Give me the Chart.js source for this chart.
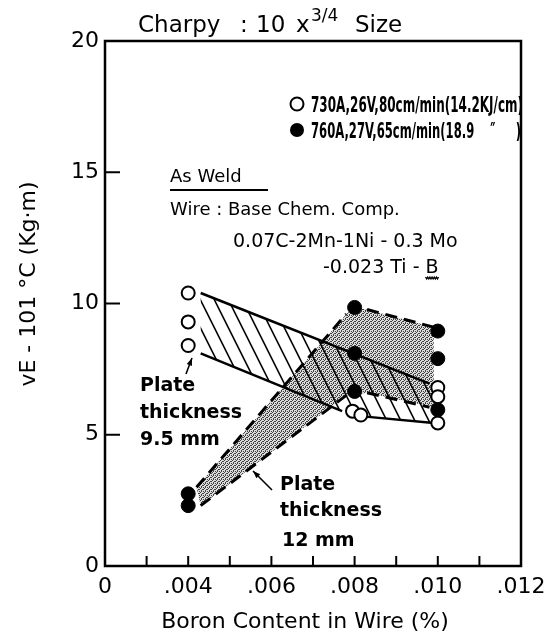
<!DOCTYPE html>
<html>
<head>
<meta charset="utf-8">
<script src="https://cdn.jsdelivr.net/npm/chart.js@4.4.1/dist/chart.umd.min.js"></script>
<style>
  html, body { margin: 0; padding: 0; background: #fff; }
  #wrap { width: 554px; height: 640px; }
</style>
</head>
<body>
<div id="wrap"><canvas id="chart"></canvas></div>
<script>
// --- data: boron content (%) vs vE-101°C (kg·m) ---
const openX = [0.004, 0.004, 0.004, 0.00795, 0.00815, 0.010, 0.010, 0.010];
const openY = [10.4, 9.3, 8.4, 5.9, 5.75, 6.8, 6.45, 5.45];
const filledX = [0.004, 0.004, 0.008, 0.008, 0.008, 0.010, 0.010, 0.010];
const filledY = [2.75, 2.3, 9.85, 8.1, 6.65, 8.95, 7.9, 5.95];
const seriesLabels = ['730A,26V,80cm/min(14.2KJ/cm)', '760A,27V,65cm/min(18.9    \u2033     )'];

// scatter bands: 9.5 mm plate (hatched) and 12 mm plate (stippled)
const band95X = [0.0043, 0.0098, 0.0099, 0.0082, 0.0077, 0.0043];
const band95Y = [10.4, 6.95, 5.45, 5.7, 5.9, 8.1];
const band12X = [0.0042, 0.0078, 0.0080, 0.0083, 0.0099, 0.0099, 0.0083, 0.0078, 0.0043];
const band12Y = [3.0, 9.6, 9.85, 9.77, 9.1, 6.05, 6.6, 6.5, 2.3];

// band outlines
const solidLines = [
  { x: [0.0043, 0.0098], y: [10.4, 6.95] },
  { x: [0.0043, 0.0077], y: [8.1, 5.9] },
  { x: [0.0082, 0.0099], y: [5.7, 5.45] }
];
const dashedLines = [
  { x: [0.0042, 0.0078], y: [3.0, 9.6] },
  { x: [0.0083, 0.0099], y: [9.77, 9.1] },
  { x: [0.0043, 0.0078], y: [2.3, 6.5] },
  { x: [0.0083, 0.0098], y: [6.6, 6.05] }
];

// axes (x axis is broken: first position stands for 0)
const xTicks = [0.002, 0.003, 0.004, 0.005, 0.006, 0.007, 0.008, 0.009, 0.010, 0.011, 0.012];
const xTickLabels = ['0', '', '.004', '', '.006', '', '.008', '', '.010', '', '.012'];
const yTicks = [0, 5, 10, 15, 20];

const FONT = '"DejaVu Sans", sans-serif';
const NARROW = '"Liberation Sans Narrow", "DejaVu Sans Condensed", "DejaVu Sans", sans-serif';

const pts = (xs, ys) => xs.map((x, i) => ({ x: x, y: ys[i] }));

// stipple pattern for the 12 mm band
function stipple(ctx) {
  const pc = document.createElement('canvas');
  pc.width = 4; pc.height = 4;
  const p = pc.getContext('2d');
  p.fillStyle = '#dcdcdc';
  p.fillRect(0, 0, 4, 4);
  p.fillStyle = '#404040';
  [[0, 0], [2, 1], [1, 2], [3, 3], [3, 1], [1, 3]].forEach(([a, b]) => p.fillRect(a, b, 1, 1));
  return ctx.createPattern(pc, 'repeat');
}

function polyPath(ctx, xs, ys, sx, sy) {
  ctx.beginPath();
  xs.forEach((v, i) => {
    const px = sx.getPixelForValue(v), py = sy.getPixelForValue(ys[i]);
    if (i === 0) ctx.moveTo(px, py); else ctx.lineTo(px, py);
  });
  ctx.closePath();
}

function arrow(ctx, x1, y1, x2, y2) {
  ctx.beginPath();
  ctx.moveTo(x1, y1);
  ctx.lineTo(x2, y2);
  ctx.stroke();
  const a = Math.atan2(y2 - y1, x2 - x1);
  ctx.beginPath();
  ctx.moveTo(x2, y2);
  ctx.lineTo(x2 - 8 * Math.cos(a - 0.35), y2 - 8 * Math.sin(a - 0.35));
  ctx.lineTo(x2 - 8 * Math.cos(a + 0.35), y2 - 8 * Math.sin(a + 0.35));
  ctx.closePath();
  ctx.fill();
}

const bandsPlugin = {
  id: 'bands',
  beforeDatasetsDraw(chart) {
    const { ctx, scales: { x, y } } = chart;
    ctx.save();
    // 12 mm: stippled
    polyPath(ctx, band12X, band12Y, x, y);
    ctx.fillStyle = stipple(ctx);
    ctx.fill();
    // 9.5 mm: hatched
    polyPath(ctx, band95X, band95Y, x, y);
    ctx.clip();
    ctx.strokeStyle = '#000';
    ctx.lineWidth = 1.6;
    const top = chart.chartArea.top, bot = chart.chartArea.bottom;
    for (let c = chart.chartArea.left - 300; c < chart.chartArea.right; c += 14) {
      ctx.beginPath();
      ctx.moveTo(c, top);
      ctx.lineTo(c + (bot - top) / 2, bot);
      ctx.stroke();
    }
    ctx.restore();
  }
};

const decorPlugin = {
  id: 'decor',
  afterDraw(chart) {
    const { ctx, chartArea: a, scales: { x, y } } = chart;
    ctx.save();
    ctx.strokeStyle = '#000';
    ctx.fillStyle = '#000';

    // frame + inward ticks
    ctx.lineWidth = 2.5;
    ctx.strokeRect(a.left, a.top, a.right - a.left, a.bottom - a.top);
    ctx.lineWidth = 2;
    xTicks.forEach(v => {
      const px = x.getPixelForValue(v);
      ctx.beginPath(); ctx.moveTo(px, a.bottom); ctx.lineTo(px, a.bottom - 10); ctx.stroke();
    });
    yTicks.forEach(v => {
      const py = y.getPixelForValue(v);
      ctx.beginPath(); ctx.moveTo(a.left, py); ctx.lineTo(a.left + 15, py); ctx.stroke();
    });

    // title
    ctx.textBaseline = 'alphabetic';
    ctx.textAlign = 'left';
    ctx.font = '23px ' + FONT;
    ctx.fillText('Charpy', 138, 32);
    ctx.fillText(':', 240, 32);
    ctx.fillText('10', 256, 32);
    ctx.fillText('x', 296, 32);
    ctx.font = '17px ' + FONT;
    ctx.fillText('3/4', 311, 21);
    ctx.font = '23px ' + FONT;
    ctx.fillText('Size', 355, 32);

    // legend
    ctx.save();
    ctx.beginPath();
    ctx.rect(a.left, a.top, a.right - a.left - 1, a.bottom - a.top);
    ctx.clip();
    ctx.lineWidth = 2;
    ctx.beginPath(); ctx.arc(297, 104, 6.5, 0, Math.PI * 2); ctx.stroke();
    ctx.beginPath(); ctx.arc(297, 130, 7, 0, Math.PI * 2); ctx.fill();
    ctx.font = 'bold 22px ' + NARROW;
    ctx.fillText(seriesLabels[0], 311, 112, 212);
    ctx.fillText(seriesLabels[1], 311, 138, 210);
    ctx.restore();

    // notes
    ctx.font = '18px ' + FONT;
    ctx.fillText('As Weld', 170, 182);
    ctx.lineWidth = 2;
    ctx.beginPath(); ctx.moveTo(170, 190); ctx.lineTo(268, 190); ctx.stroke();
    ctx.fillText('Wire : Base Chem. Comp.', 170, 215);
    ctx.font = '19px ' + FONT;
    ctx.fillText('0.07C-2Mn-1Ni - 0.3 Mo', 233, 247, 257);
    const t2 = '-0.023 Ti - B';
    ctx.fillText(t2, 323, 273, 167);
    const bEnd = 323 + Math.min(167, ctx.measureText(t2).width);
    ctx.lineWidth = 1.3;
    ctx.beginPath();
    for (let i = 0; i <= 12; i++) {
      const wx = bEnd - 13 + i * 13 / 12;
      const wy = 277 + (i % 2 === 0 ? 0 : 2);
      if (i === 0) ctx.moveTo(wx, wy); else ctx.lineTo(wx, wy);
    }
    ctx.stroke();

    ctx.font = 'bold 19px ' + FONT;
    ctx.fillText('Plate', 140, 391);
    ctx.fillText('thickness', 140, 418);
    ctx.fillText('9.5 mm', 140, 445);
    ctx.fillText('Plate', 280, 490);
    ctx.fillText('thickness', 280, 516);
    ctx.fillText('12 mm', 282, 546);

    ctx.lineWidth = 1.6;
    arrow(ctx, 186, 374, 192, 358);
    arrow(ctx, 272, 490, 253, 471);

    // axis titles
    ctx.font = '22px ' + FONT;
    ctx.textAlign = 'center';
    ctx.fillText('Boron Content in Wire (%)', 305, 628);
    ctx.translate(35, 284);
    ctx.rotate(-Math.PI / 2);
    ctx.font = '22px ' + FONT;
    ctx.fillText('vE - 101 \u00B0C (Kg\u00B7m)', 0, 0);
    ctx.restore();
  }
};

const lineDatasets = [];
solidLines.forEach(l => lineDatasets.push({
  data: pts(l.x, l.y), showLine: true, pointRadius: 0, borderColor: '#000',
  borderWidth: 2.5, order: 2
}));
dashedLines.forEach(l => lineDatasets.push({
  data: pts(l.x, l.y), showLine: true, pointRadius: 0, borderColor: '#000',
  borderWidth: 3, borderDash: [12, 7], order: 2
}));

new Chart(document.getElementById('chart'), {
  type: 'scatter',
  data: {
    datasets: [
      {
        label: seriesLabels[0], data: pts(openX, openY), pointRadius: 6.5,
        pointBackgroundColor: '#fff', pointBorderColor: '#000', pointBorderWidth: 2, order: 1
      },
      {
        label: seriesLabels[1], data: pts(filledX, filledY), pointRadius: 7,
        pointBackgroundColor: '#000', pointBorderColor: '#000', pointBorderWidth: 1, order: 0
      },
      ...lineDatasets
    ]
  },
  options: {
    responsive: true,
    maintainAspectRatio: false,
    animation: false,
    layout: { padding: { left: 0, top: 41, right: 33, bottom: 0 } },
    plugins: { legend: { display: false }, tooltip: { enabled: false } },
    scales: {
      x: {
        type: 'linear', min: 0.002, max: 0.012,
        afterFit: s => { s.height = 74; },
        afterBuildTicks: s => { s.ticks = xTicks.map(v => ({ value: v })); },
        grid: { display: false, drawTicks: false },
        border: { display: false },
        ticks: {
          autoSkip: false, maxRotation: 0, padding: 8, color: '#000',
          font: { family: FONT, size: 22 },
          callback: (v, i) => xTickLabels[i]
        }
      },
      y: {
        type: 'linear', min: 0, max: 20,
        afterFit: s => { s.width = 105; },
        afterBuildTicks: s => { s.ticks = yTicks.map(v => ({ value: v })); },
        grid: { display: false, drawTicks: false },
        border: { display: false },
        ticks: {
          padding: 6, color: '#000',
          font: { family: FONT, size: 22 }
        }
      }
    }
  },
  plugins: [bandsPlugin, decorPlugin]
});
</script>
</body>
</html>
